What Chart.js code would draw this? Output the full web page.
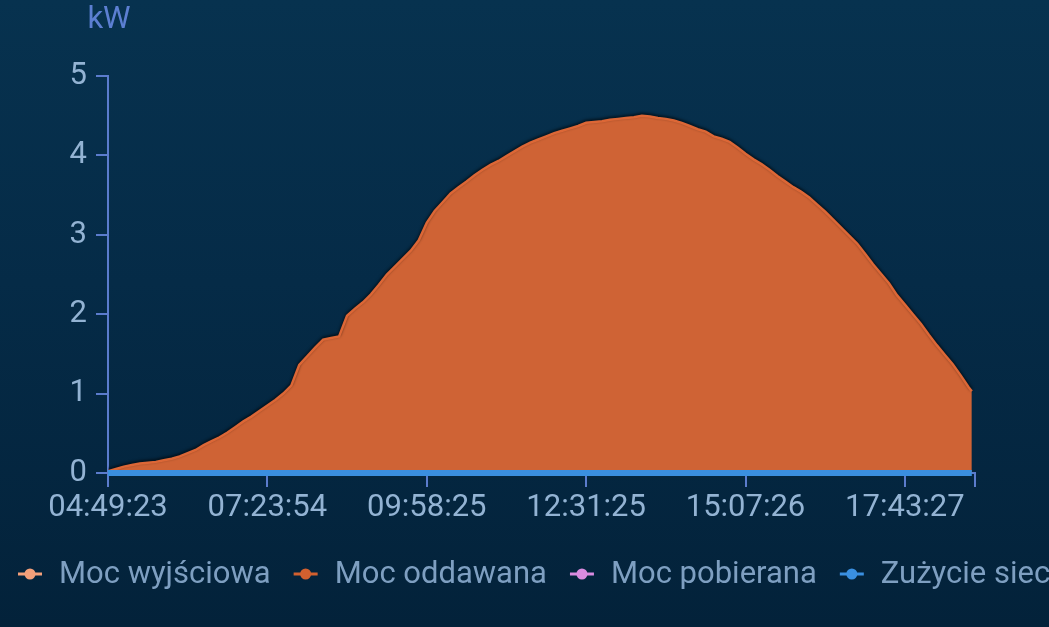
<!DOCTYPE html>
<html>
<head>
<meta charset="utf-8">
<script src="https://cdn.jsdelivr.net/npm/chart.js@4.4.1/dist/chart.umd.min.js"></script>
<style>
  html, body { margin: 0; padding: 0; }
  body {
    width: 1049px; height: 627px; overflow: hidden;
    background: linear-gradient(180deg, #07324f 0%, #052b47 45%, #03223a 100%);
  }
  #wrap { position: relative; width: 1049px; height: 627px; }
</style>
</head>
<body>
<div id="wrap"><canvas id="c"></canvas></div>
<script>
// ---- data ----
const tickLabels = ['04:49:23', '07:23:54', '09:58:25', '12:31:25', '15:07:26', '17:43:27'];
const samplesPerTick = 20;
const lastSample = 108.8;
const seriesNames = ['Moc wyjściowa', 'Moc oddawana', 'Moc pobierana', 'Zużycie sieci'];
const seriesColors = ['#f4a07a', '#d2602f', '#d98be0', '#3a8fe0'];

// kW, one sample per interval on the x axis
const mocOddawana = [
  0.02, 0.05, 0.08, 0.10, 0.12, 0.13, 0.14, 0.16, 0.18, 0.21,
  0.25, 0.29, 0.35, 0.40, 0.45, 0.51, 0.58, 0.65, 0.71, 0.78,
  0.85, 0.92, 1.00, 1.10, 1.36, 1.47, 1.58, 1.68, 1.70, 1.72,
  1.98, 2.07, 2.15, 2.25, 2.37, 2.50, 2.60, 2.70, 2.80, 2.93,
  3.15, 3.30, 3.41, 3.52, 3.60, 3.67, 3.75, 3.82, 3.88, 3.93,
  3.99, 4.05, 4.11, 4.16, 4.20, 4.24, 4.28, 4.31, 4.34, 4.37,
  4.41, 4.42, 4.43, 4.45, 4.46, 4.47, 4.48, 4.50, 4.49, 4.47,
  4.46, 4.44, 4.41, 4.37, 4.33, 4.30, 4.24, 4.21, 4.17, 4.10,
  4.02, 3.95, 3.89, 3.82, 3.74, 3.67, 3.60, 3.54, 3.47, 3.38,
  3.29, 3.19, 3.09, 2.99, 2.89, 2.76, 2.63, 2.51, 2.39, 2.24,
  2.12, 2.00, 1.88, 1.74, 1.61, 1.49, 1.37, 1.23, 1.08, 1.03
];
const mocWyjsciowa = [];
const mocPobierana = [];
const zuzycieSieci = [
  0, 0, 0, 0, 0, 0, 0, 0, 0, 0, 0, 0, 0, 0, 0, 0, 0, 0, 0, 0,
  0, 0, 0, 0, 0, 0, 0, 0, 0, 0, 0, 0, 0, 0, 0, 0, 0, 0, 0, 0,
  0, 0, 0, 0, 0, 0, 0, 0, 0, 0, 0, 0, 0, 0, 0, 0, 0, 0, 0, 0,
  0, 0, 0, 0, 0, 0, 0, 0, 0, 0, 0, 0, 0, 0, 0, 0, 0, 0, 0, 0,
  0, 0, 0, 0, 0, 0, 0, 0, 0, 0, 0, 0, 0, 0, 0, 0, 0, 0, 0, 0,
  0, 0, 0, 0, 0, 0, 0, 0, 0, 0
];
const yTicks = [0, 1, 2, 3, 4, 5];
const yUnit = 'kW';

// ---- styling ----
const FONT = 'Roboto, "Noto Sans", sans-serif';
const FONT_SIZE = 31;
const axisColor = '#5b7ccd';
const tickTextColor = '#93b3d3';
const legendTextColor = '#7e9fc1';

// the last sample sits a little before the axis end, as in the picture
const toXY = arr => arr.map((v, i) => ({ x: i === 109 ? 108.4 : i, y: v }));

const edgeShadow = {
  id: 'edgeShadow',
  beforeDatasetDraw(chart, args) {
    if (args.index === 1) {
      const ctx = chart.ctx;
      ctx.save();
      ctx.shadowColor = 'rgba(0,0,0,0.75)';
      ctx.shadowBlur = 3;
      ctx.shadowOffsetY = -1.5;
    }
  },
  afterDatasetDraw(chart, args) {
    if (args.index === 1) chart.ctx.restore();
  }
};

const extras = {
  id: 'extras',
  afterDraw(chart) {
    const ctx = chart.ctx;
    const ys = chart.scales.y;
    ctx.save();
    // unit label
    ctx.font = FONT_SIZE + 'px ' + FONT;
    ctx.fillStyle = '#5c7fd2';
    ctx.textAlign = 'center';
    ctx.textBaseline = 'middle';
    ctx.fillText(yUnit, ys.right + 1, 20);
    // single-row legend
    ctx.textAlign = 'left';
    let x = 30;
    const y = 574;
    chart.data.datasets.forEach((ds, i) => {
      const col = seriesColors[i];
      ctx.strokeStyle = col;
      ctx.lineWidth = 3;
      ctx.beginPath();
      ctx.moveTo(x - 12, y);
      ctx.lineTo(x + 12, y);
      ctx.stroke();
      ctx.fillStyle = col;
      ctx.beginPath();
      ctx.arc(x, y, 5.5, 0, Math.PI * 2);
      ctx.fill();
      ctx.fillStyle = legendTextColor;
      ctx.fillText(ds.label, x + 29, y + 1);
      x += 29 + ctx.measureText(ds.label).width + 35;
    });
    ctx.restore();
  }
};

new Chart(document.getElementById('c'), {
  type: 'line',
  data: {
    datasets: [
      { label: seriesNames[0], data: toXY(mocWyjsciowa), borderColor: seriesColors[0], backgroundColor: seriesColors[0], pointRadius: 0, order: 2 },
      { label: seriesNames[1], data: toXY(mocOddawana), borderColor: '#dc6736', backgroundColor: '#cf6335',
        fill: 'origin', borderWidth: 2.5, pointRadius: 0, tension: 0, order: 1 },
      { label: seriesNames[2], data: toXY(mocPobierana), borderColor: seriesColors[2], backgroundColor: seriesColors[2], pointRadius: 0, order: 2 },
      { label: seriesNames[3], data: toXY(zuzycieSieci), borderColor: seriesColors[3], backgroundColor: seriesColors[3],
        borderWidth: 6, pointRadius: 0, order: 0, clip: 10 }
    ]
  },
  options: {
    responsive: true,
    maintainAspectRatio: false,
    animation: false,
    events: [],
    layout: { padding: { top: 76, right: 74, bottom: 104, left: 0 } },
    plugins: { legend: { display: false }, tooltip: { enabled: false }, title: { display: false } },
    scales: {
      x: {
        type: 'linear',
        min: 0,
        max: lastSample,
        afterFit(s) { s.height = 50; },
        afterBuildTicks(s) {
          const t = tickLabels.map((_, i) => ({ value: i * samplesPerTick }));
          t.push({ value: lastSample });
          s.ticks = t;
        },
        grid: { drawOnChartArea: false, drawTicks: true, tickLength: 14, color: axisColor, lineWidth: 2 },
        border: { display: true, color: axisColor, width: 2 },
        ticks: {
          autoSkip: false,
          maxRotation: 0,
          padding: 3,
          color: tickTextColor,
          font: { family: FONT, size: FONT_SIZE },
          callback(v) {
            return Number.isInteger(v / samplesPerTick) ? (tickLabels[v / samplesPerTick] || '') : '';
          }
        }
      },
      y: {
        min: yTicks[0],
        max: yTicks[yTicks.length - 1],
        afterFit(s) { s.width = 108; },
        grid: { drawOnChartArea: false, drawTicks: true, tickLength: 12, color: axisColor, lineWidth: 2 },
        border: { display: true, color: axisColor, width: 2 },
        ticks: {
          stepSize: 1,
          padding: 9,
          color: tickTextColor,
          font: { family: FONT, size: FONT_SIZE }
        }
      }
    }
  },
  plugins: [edgeShadow, extras]
});
</script>
</body>
</html>
